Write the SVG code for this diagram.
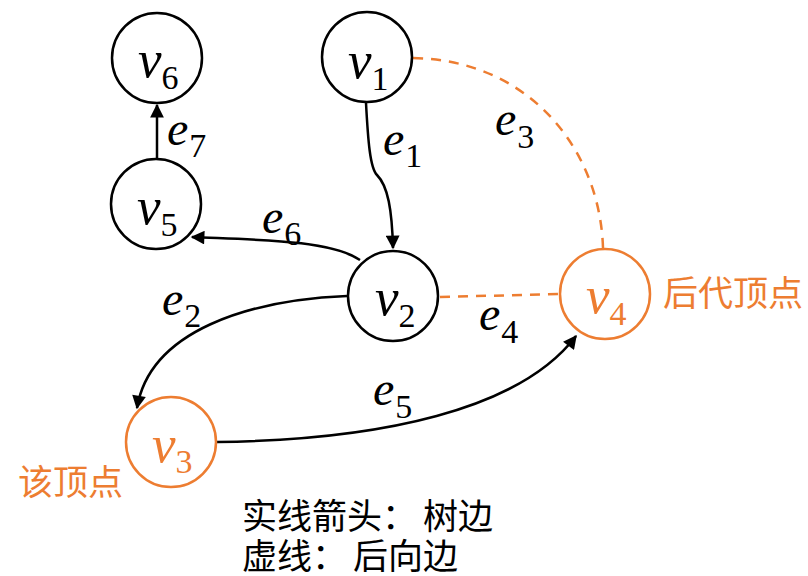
<svg xmlns="http://www.w3.org/2000/svg" width="808" height="576" viewBox="0 0 808 576">
<defs>
<marker id="arr" viewBox="0 0 10 10" refX="9" refY="5" markerWidth="6" markerHeight="5.5" orient="auto" markerUnits="strokeWidth">
<path d="M0,0 L10,5 L0,10 z" fill="#000"/>
</marker>
<style>
.node{fill:#fff;stroke:#000;stroke-width:2.5}
.onode{fill:#fff;stroke:#ED7D31;stroke-width:2.5}
.v{font-family:'Liberation Serif','DejaVu Serif',serif;font-style:italic;font-size:53px;fill:#000}
.s{font-family:'Liberation Serif','DejaVu Serif',serif;font-style:normal;font-size:34px}
.ov{fill:#ED7D31}
.edge{fill:none;stroke:#000;stroke-width:2.5;marker-end:url(#arr)}
.back{fill:none;stroke:#ED7D31;stroke-width:2.5;stroke-dasharray:10,8}
.lbl{font-family:'Liberation Serif','DejaVu Serif',serif;font-style:italic;font-size:48px;fill:#000}
.cn{font-family:'Liberation Sans','Noto Sans CJK SC',sans-serif;font-size:35px}
.cl{font-family:'Liberation Sans','Noto Sans CJK SC',sans-serif;font-size:35px;fill:#000}
</style>
</defs>
<g id="edges">
<path class="back" d="M413,58 C530,60 600,150 603,248"/>
<path class="back" d="M440,297 L559,294"/>
<path class="edge" d="M157,158 L157,105"/>
<path class="edge" d="M366,103 C368,140 370,168 377,175 C388,186 392,210 393,248"/>
<path class="edge" d="M360,260 C330,240 260,240 192,237"/>
<path class="edge" d="M347,296 C250,300 150,330 137,408"/>
<path class="edge" d="M217,442 C380,440 520,410 576,336"/>
<text class="lbl" x="383" y="155">e<tspan class="s" dx="1" dy="12">1</tspan></text>
<text class="lbl" x="495" y="135">e<tspan class="s" dx="1" dy="13">3</tspan></text>
<text class="lbl" x="262" y="233">e<tspan class="s" dx="1" dy="12">6</tspan></text>
<text class="lbl" x="167" y="145">e<tspan class="s" dx="1" dy="12">7</tspan></text>
<text class="lbl" x="162" y="315">e<tspan class="s" dx="1" dy="12">2</tspan></text>
<text class="lbl" x="479" y="330">e<tspan class="s" dx="1" dy="13">4</tspan></text>
<text class="lbl" x="373" y="405">e<tspan class="s" dx="1" dy="13">5</tspan></text>
</g>
<g id="v6"><circle class="node" cx="157" cy="58" r="45"/><text class="v" x="138" y="77">v<tspan class="s" dy="12">6</tspan></text></g>
<g id="v1"><circle class="node" cx="367" cy="57" r="45"/><text class="v" x="348" y="78">v<tspan class="s" dy="12">1</tspan></text></g>
<g id="v5"><circle class="node" cx="156" cy="204" r="45"/><text class="v" x="137" y="224">v<tspan class="s" dy="12">5</tspan></text></g>
<g id="v2"><circle class="node" cx="393" cy="296" r="45"/><text class="v" x="375" y="315">v<tspan class="s" dy="12">2</tspan></text></g>
<g id="v4"><circle class="onode" cx="605" cy="294" r="45"/><text class="v ov" x="586" y="313">v<tspan class="s" dy="12">4</tspan></text><text class="cn ov" x="663" y="306">后代顶点</text></g>
<g id="v3"><circle class="onode" cx="171" cy="442" r="45"/><text class="v ov" x="152" y="462">v<tspan class="s" dy="11">3</tspan></text><text class="cn ov" x="18" y="495">该顶点</text></g>
<g id="legend">
<text class="cl" x="242" y="529">实线箭头：<tspan dx="6">树边</tspan></text>
<text class="cl" x="242" y="569">虚线：<tspan dx="6">后向边</tspan></text>
</g>
</svg>
